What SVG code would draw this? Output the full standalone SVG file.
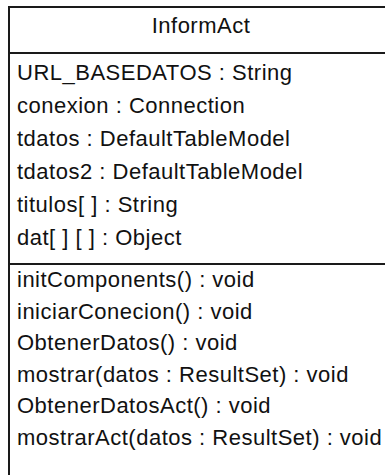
<svg xmlns="http://www.w3.org/2000/svg" width="385" height="475" viewBox="0 0 385 475">
  <style>
    .box { fill: #ffffff; stroke: #1a1a1a; stroke-width: 2; }
    .sep { stroke: #1a1a1a; stroke-width: 2; }
    .t { font-family: "Liberation Sans", Arial, sans-serif; font-size: 22px; letter-spacing: 0.5px; fill: #111111; }
    .title { text-anchor: middle; }
  </style>
  <rect width="385" height="475" fill="#ffffff"/>
  <g id="InformAct">
    <rect class="box" x="9" y="7" width="386" height="480"/>
    <line class="sep" x1="9" y1="53" x2="395" y2="53"/>
    <line class="sep" x1="9" y1="264" x2="395" y2="264"/>
    <text class="t title" x="201" y="33">InformAct</text>
    <g id="attributes">
      <text class="t" x="17" y="80">URL_BASEDATOS : String</text>
      <text class="t" x="17" y="113">conexion : Connection</text>
      <text class="t" x="17" y="146">tdatos : DefaultTableModel</text>
      <text class="t" x="17" y="179">tdatos2 : DefaultTableModel</text>
      <text class="t" x="17" y="212">titulos[ ] : String</text>
      <text class="t" x="17" y="245">dat[ ] [ ] : Object</text>
    </g>
    <g id="operations">
      <text class="t" x="17" y="287">initComponents() : void</text>
      <text class="t" x="17" y="318.5">iniciarConecion() : void</text>
      <text class="t" x="17" y="350">ObtenerDatos() : void</text>
      <text class="t" x="17" y="381.5">mostrar(datos : ResultSet) : void</text>
      <text class="t" x="17" y="413">ObtenerDatosAct() : void</text>
      <text class="t" x="17" y="445">mostrarAct(datos : ResultSet) : void</text>
    </g>
  </g>
  <g id="connectors"/>
</svg>
